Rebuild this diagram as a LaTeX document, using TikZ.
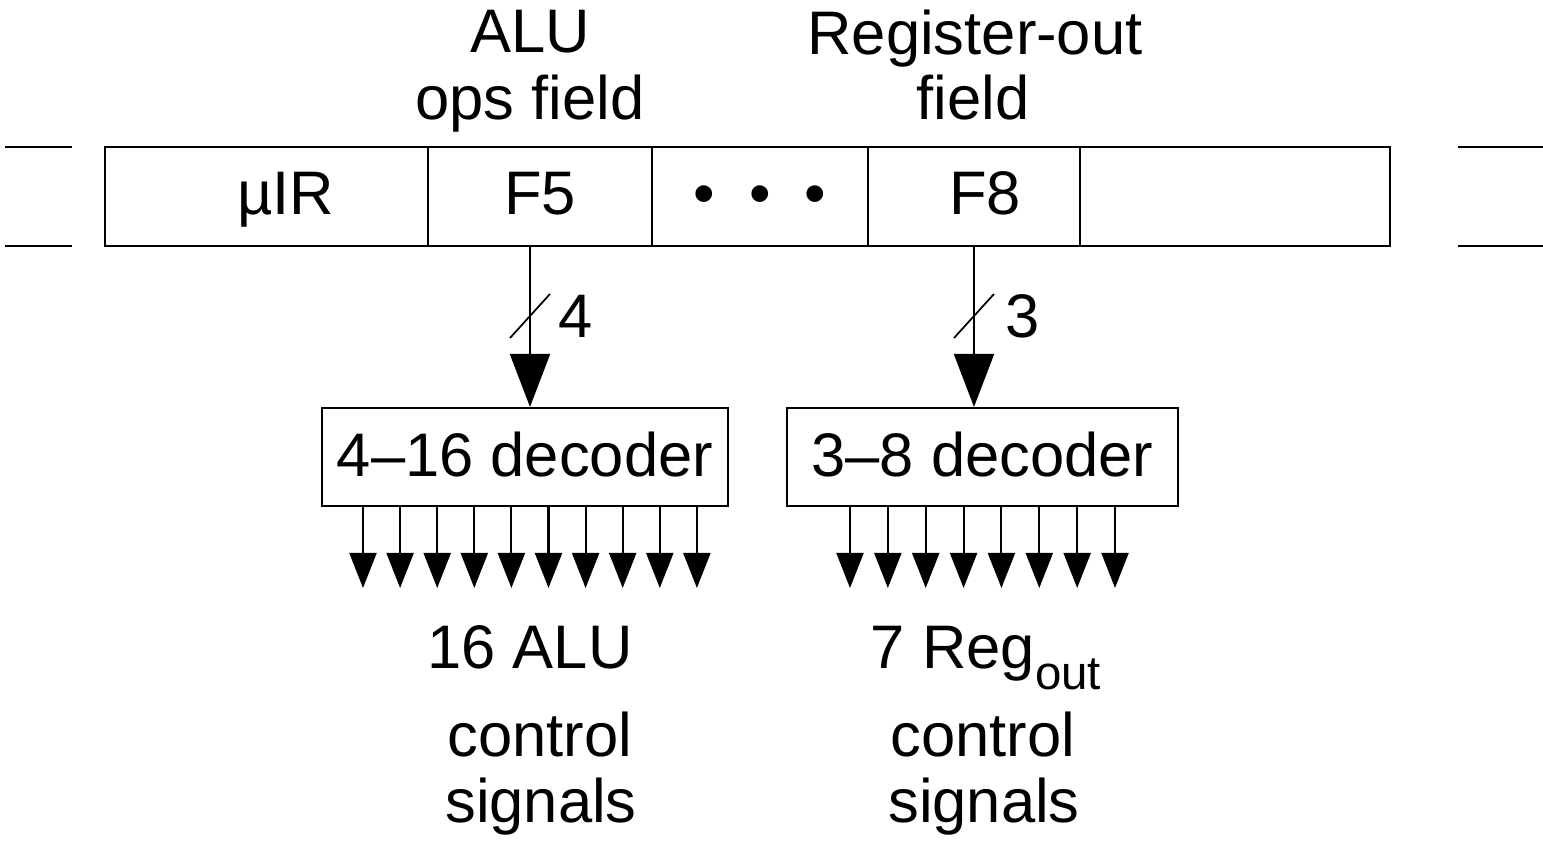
\documentclass[tikz,border=0pt]{standalone}
\usepackage{fontspec}
\setmainfont{Liberation Sans}
\usetikzlibrary{arrows.meta}
\tikzset{
  field/.style={draw, minimum height=0.99cm, inner sep=0pt, text height=0.37cm, text depth=0pt},
  decoder/.style={draw, minimum height=0.98cm, inner sep=0pt, text height=0.40cm, text depth=0pt},
  bigarrow/.style={-{Triangle[width=0.40cm, length=0.53cm]}},
  smallarrow/.style={-{Triangle[width=0.27cm, length=0.35cm]}},
  label/.style={inner sep=0pt, anchor=base}
}
\begin{document}
\begin{tikzpicture}[font=\fontsize{17.5}{20}\selectfont, line width=0.6pt]
    \useasboundingbox (0,0) rectangle (15.43,8.43);
    % Register
    \node[field, minimum width=3.23cm] (uir) at (2.665,6.465) {\hspace{0.38cm}µIR};
    \node[field, minimum width=2.24cm] (f5) at (5.40,6.465) {F5\hspace{0.18cm}};
    \node[field, minimum width=2.16cm] (dots) at (7.60,6.465) {•\hspace{0.55em}•\hspace{0.55em}•};
    \node[field, minimum width=2.12cm] (f8) at (9.74,6.465) {\hspace{0.22cm}F8};
    \node[field, minimum width=3.10cm] (rest) at (12.35,6.465) {};
    \coordinate (la) at (0.05,6.96);
    \coordinate (lb) at (0.72,6.96);
    \coordinate (lc) at (0.05,5.97);
    \coordinate (ld) at (0.72,5.97);
    \coordinate (ra) at (14.58,6.96);
    \coordinate (rb) at (15.43,6.96);
    \coordinate (rc) at (14.58,5.97);
    \coordinate (rd) at (15.43,5.97);
    \draw (la) -- (lb);
    \draw (lc) -- (ld);
    \draw (ra) -- (rb);
    \draw (rc) -- (rd);

    % Field names
    \node[label] (alu) at (5.30,7.90) {ALU};
    \node[label] (ops) at (5.30,7.23) {ops field};
    \node[label] (regout) at (9.75,7.88) {Register-out};
    \node[label] (fld) at (9.73,7.23) {field};

    % Decoders
    \node[decoder, minimum width=4.06cm] (dec1) at (5.25,3.86) {4–16 decoder};
    \node[decoder, minimum width=3.91cm] (dec2) at (9.825,3.86) {3–8 decoder};
    \draw[bigarrow] (f5.south -| alu) -- (alu |- dec1.north);
    \draw[bigarrow] (f8.south) -- (f8.south |- dec2.north);

    % Bus widths
    \coordinate (s1a) at (5.10,5.05);
    \coordinate (s1b) at (5.50,5.49);
    \draw[line width=0.5pt] (s1a) -- (s1b);
    \node[label] (w4) at (5.76,5.05) {4};
    \coordinate (s2a) at (9.54,5.05);
    \coordinate (s2b) at (9.94,5.49);
    \draw[line width=0.5pt] (s2a) -- (s2b);
    \node[label] (w3) at (10.23,5.05) {3};

    % Outputs
    \foreach \i in {0,...,9}
      \draw[smallarrow] (dec1.south -| {3.63+0.371*\i},0) -- ({3.63+0.371*\i},2.55);
    \foreach \i in {0,...,7}
      \draw[smallarrow] (dec2.south -| {8.50+0.3786*\i},0) -- ({8.50+0.3786*\i},2.55);

    % Signal labels
    \node[label] (alusig) at (5.30,1.74) {16 ALU};
    \node[label] (ctl1) at (5.40,0.86) {control};
    \node[label] (sig1) at (5.41,0.20) {signals};
    \node[label] (regsig) at (9.86,1.74) {7 Reg\raisebox{-0.21cm}{\fontsize{13.5}{15}\selectfont out}};
    \node[label] (ctl2) at (9.83,0.86) {control};
    \node[label] (sig2) at (9.84,0.20) {signals};
  \end{tikzpicture}
\end{document}
